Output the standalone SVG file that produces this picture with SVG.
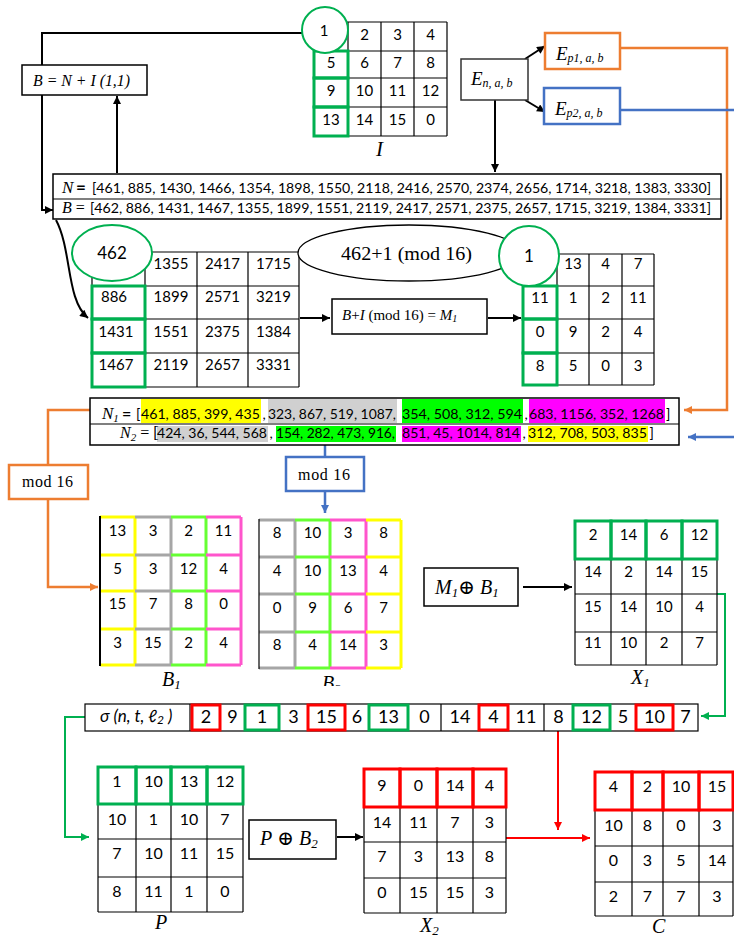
<svg xmlns="http://www.w3.org/2000/svg" width="734" height="939" viewBox="0 0 734 939">
<defs>
<style>
.t{font-family:Lato,"Liberation Sans","DejaVu Sans",sans-serif;fill:#000}
.m{text-anchor:middle}
.f15{font-size:15px}
.f16{font-size:16px}
.f18{font-size:18px}
.s{font-family:"Liberation Serif","Times New Roman","DejaVu Serif",serif;fill:#000}
.i{font-style:italic}
.g{fill:none;stroke:#000;stroke-width:1.2}
.gb{fill:none;stroke:#00b050;stroke-width:3}
.rb{fill:none;stroke:#ff0000;stroke-width:3}
.box{fill:#fff;stroke:#000;stroke-width:1.5}
.k{fill:none;stroke:#000;stroke-width:2}
.o{fill:none;stroke:#ed7d31;stroke-width:2.5}
.b{fill:none;stroke:#4472c4;stroke-width:2.5}
.gr{fill:none;stroke:#00b050;stroke-width:2}
.r{fill:none;stroke:#ff0000;stroke-width:2}
.cy{fill:none;stroke:#ffff00;stroke-width:3}
.cg{fill:none;stroke:#a6a6a6;stroke-width:3}
.cl{fill:none;stroke:#66ff33;stroke-width:3}
.cp{fill:none;stroke:#ff55cc;stroke-width:3}
</style>
<marker id="ak" viewBox="0 0 10 10" refX="10" refY="5" markerWidth="10" markerHeight="8" markerUnits="userSpaceOnUse" orient="auto"><path d="M0,0L10,5L0,10z" fill="#000"/></marker>
<marker id="ao" viewBox="0 0 10 10" refX="10" refY="5" markerWidth="10" markerHeight="8" markerUnits="userSpaceOnUse" orient="auto"><path d="M0,0L10,5L0,10z" fill="#ed7d31"/></marker>
<marker id="abl" viewBox="0 0 10 10" refX="10" refY="5" markerWidth="10" markerHeight="8" markerUnits="userSpaceOnUse" orient="auto"><path d="M0,0L10,5L0,10z" fill="#4472c4"/></marker>
<marker id="ag" viewBox="0 0 10 10" refX="10" refY="5" markerWidth="10" markerHeight="8" markerUnits="userSpaceOnUse" orient="auto"><path d="M0,0L10,5L0,10z" fill="#00b050"/></marker>
<marker id="ar" viewBox="0 0 10 10" refX="10" refY="5" markerWidth="10" markerHeight="8" markerUnits="userSpaceOnUse" orient="auto"><path d="M0,0L10,5L0,10z" fill="#ff0000"/></marker>
<clipPath id="clipB"><rect x="0" y="660" width="734" height="26"/></clipPath>
</defs>
<rect width="734" height="939" fill="#fff"/>

<g id="connectors">
<path class="k" d="M302,33H42V210H53" marker-end="url(#ak)"/>
<path class="k" d="M117,173V96" marker-end="url(#ak)"/>
<path class="k" d="M495,100V172" marker-end="url(#ak)"/>
<path class="k" d="M525,59L545,46" marker-end="url(#ak)"/>
<path class="k" d="M525,100L545,112" marker-end="url(#ak)"/>
<path class="o" d="M620,48H727V410H684" marker-end="url(#ao)"/>
<path class="b" d="M620,110H736"/>
<path class="b" d="M736,437H688" marker-end="url(#abl)"/>
<path class="k" d="M56,220C72,250 66,300 88,318" marker-end="url(#ak)"/>
<path class="k" d="M492,266H500"/>
<path class="k" d="M300,318H330" marker-end="url(#ak)"/>
<path class="k" d="M488,318H521" marker-end="url(#ak)"/>
<path class="o" d="M90,410H48V465M48,499V587H98" marker-end="url(#ao)"/>
<path class="b" d="M325,445V457M325,491V513" marker-end="url(#abl)"/>
<path class="k" d="M523,587H572" marker-end="url(#ak)"/>
<path class="gr" d="M717,594H725V716H701" marker-end="url(#ag)"/>
<path class="gr" d="M85,717H65V837H89" marker-end="url(#ag)"/>
<path class="k" d="M337,837H363" marker-end="url(#ak)"/>
<path class="r" d="M558,731V830" marker-end="url(#ar)"/>
<path class="r" d="M506,838H590" marker-end="url(#ar)"/>
</g>

<g id="formulaB">
<rect class="box" x="22" y="65" width="125" height="30" stroke-width="2.5"/>
<text class="s i" x="33" y="86" font-size="16" textLength="97" lengthAdjust="spacingAndGlyphs">B = N + I (1,1)</text>
</g>

<g id="gridI">
<path class="g" d="M314,22H447M314,51H447M314,78H447M314,107H447M314,136H447M314,22V136M348,22V136M381,22V136M414,22V136M447,22V136"/>
<rect class="gb" x="314" y="51" width="34" height="27"/>
<rect class="gb" x="314" y="78" width="34" height="29"/>
<rect class="gb" x="314" y="107" width="34" height="29"/>
<circle cx="325" cy="30" r="23" fill="#fff" stroke="#00b050" stroke-width="2"/>
<g class="t m f15">
<text x="324" y="36">1</text><text x="364.5" y="39.5">2</text><text x="397.5" y="39.5">3</text><text x="430.5" y="39.5">4</text>
<text x="331" y="67.5">5</text><text x="364.5" y="67.5">6</text><text x="397.5" y="67.5">7</text><text x="430.5" y="67.5">8</text>
<text x="331" y="95.5">9</text><text x="364.5" y="95.5">10</text><text x="397.5" y="95.5">11</text><text x="430.5" y="95.5">12</text>
<text x="331" y="124.5">13</text><text x="364.5" y="124.5">14</text><text x="397.5" y="124.5">15</text><text x="430.5" y="124.5">0</text>
</g>
<text class="s i" x="376" y="156" font-size="21">I</text>
</g>

<g id="En">
<rect x="461" y="59" width="67" height="41" fill="#fff" stroke="#333" stroke-width="1.5"/>
<text class="s i" x="471" y="85" font-size="19">E<tspan font-size="12" dy="2">n, a, b</tspan></text>
</g>
<g id="Ep1">
<rect x="545" y="33" width="75" height="36" fill="#fff" stroke="#ed7d31" stroke-width="2.5"/>
<text class="s i" x="556" y="60" font-size="19">E<tspan font-size="12" dy="2">p1, a, b</tspan></text>
</g>
<g id="Ep2">
<rect x="544" y="88" width="76" height="36" fill="#fff" stroke="#4472c4" stroke-width="2.5"/>
<text class="s i" x="555" y="115" font-size="19">E<tspan font-size="12" dy="2">p2, a, b</tspan></text>
</g>

<g id="NB">
<rect class="box" x="53" y="174" width="668" height="45" stroke-width="1.2"/>
<path class="g" d="M53,199H721"/>
<text class="s i" x="62" y="193" font-size="17">N</text>
<text class="t" x="76" y="193" font-size="17" font-weight="bold">=</text>
<text class="t" x="92" y="193" font-size="14.3" textLength="619" lengthAdjust="spacingAndGlyphs">[461, 885, 1430, 1466, 1354, 1898, 1550, 2118, 2416, 2570, 2374, 2656, 1714, 3218, 1383, 3330]</text>
<text class="s" x="62" y="213" font-size="16"><tspan font-style="italic">B</tspan> =</text>
<text class="t" x="90" y="213" font-size="14.3" textLength="621" lengthAdjust="spacingAndGlyphs">[462, 886, 1431, 1467, 1355, 1899, 1551, 2119, 2417, 2571, 2375, 2657, 1715, 3219, 1384, 3331]</text>
</g>

<g id="gridB">
<path class="g" d="M92,252H299M92,286H299M92,319H299M92,353H299M92,387H299M92,252V387M145,252V387M197,252V387M248,252V387M299,252V387"/>
<rect class="gb" x="92" y="286" width="53" height="33"/>
<rect class="gb" x="92" y="319" width="53" height="34"/>
<rect class="gb" x="92" y="353" width="53" height="34"/>
<ellipse cx="112" cy="253" rx="40" ry="28" fill="#fff" stroke="#00b050" stroke-width="2"/>
<g class="t m f15">
<text x="112" y="259" font-size="17">462</text><text x="171" y="269">1355</text><text x="222.5" y="269">2417</text><text x="273.5" y="269">1715</text>
<text x="114" y="302">886</text><text x="171" y="302">1899</text><text x="222.5" y="302">2571</text><text x="273.5" y="302">3219</text>
<text x="116" y="337">1431</text><text x="171" y="337">1551</text><text x="222.5" y="337">2375</text><text x="273.5" y="337">1384</text>
<text x="116" y="370">1467</text><text x="171" y="370">2119</text><text x="222.5" y="370">2657</text><text x="273.5" y="370">3331</text>
</g>
</g>

<g id="ellipseMod">
<ellipse cx="409" cy="253" rx="111" ry="28" fill="#fff" stroke="#000" stroke-width="1.3"/>
<text class="s" x="341" y="260" font-size="19" textLength="131" lengthAdjust="spacingAndGlyphs">462+1 (mod 16)</text>
</g>

<g id="formulaM1">
<rect class="box" x="332" y="299" width="155" height="35" stroke-width="1.2"/>
<text class="s" x="342" y="320" font-size="15"><tspan font-style="italic">B</tspan>+<tspan font-style="italic">I</tspan> (mod 16) = <tspan font-style="italic">M</tspan><tspan font-style="italic" font-size="10" dy="2">1</tspan></text>
</g>

<g id="gridM1">
<path class="g" d="M523,254H654M523,286H654M523,319H654M523,353H654M523,385H654M523,254V385M557,254V385M589,254V385M622,254V385M654,254V385"/>
<rect class="gb" x="523" y="286" width="34" height="33"/>
<rect class="gb" x="523" y="319" width="34" height="34"/>
<rect class="gb" x="523" y="353" width="34" height="32"/>
<circle cx="529" cy="256" r="30" fill="#fff" stroke="#00b050" stroke-width="2"/>
<g class="t m f15">
<text x="529" y="262" font-size="17">1</text><text x="573" y="269">13</text><text x="605.5" y="269">4</text><text x="638" y="269">7</text>
<text x="540" y="303">11</text><text x="573" y="303">1</text><text x="605.5" y="303">2</text><text x="638" y="303">11</text>
<text x="540" y="337">0</text><text x="573" y="337">9</text><text x="605.5" y="337">2</text><text x="638" y="337">4</text>
<text x="540" y="371">8</text><text x="573" y="371">5</text><text x="605.5" y="371">0</text><text x="638" y="371">3</text>
</g>
</g>

<g id="N1N2">
<rect class="box" x="90" y="398" width="589" height="47" stroke-width="1.2"/>
<path class="g" d="M90,424H679"/>
<rect x="141" y="399" width="120" height="24" fill="#ffff00"/>
<rect x="268" y="399" width="129" height="24" fill="#d0d0d0"/>
<rect x="402" y="399" width="121" height="24" fill="#00ff00"/>
<rect x="529" y="399" width="136" height="24" fill="#ff00ff"/>
<rect x="157" y="426" width="111" height="16" fill="#d0d0d0"/>
<rect x="276" y="426" width="120" height="16" fill="#00ff00"/>
<rect x="402" y="426" width="119" height="16" fill="#ff00ff"/>
<rect x="528" y="426" width="120" height="16" fill="#ffff00"/>
<text class="s i" x="102" y="419" font-size="17">N<tspan font-size="11" dy="3">1</tspan></text>
<text class="t" x="122" y="419" font-size="16" font-weight="bold">=</text>
<g class="t" font-size="14.3">
<text x="136" y="419">[</text>
<text x="141" y="419" textLength="119" lengthAdjust="spacingAndGlyphs">461, 885, 399, 435</text>
<text x="262.5" y="419">,</text>
<text x="268" y="419" textLength="128" lengthAdjust="spacingAndGlyphs">323, 867, 519, 1087,</text>
<text x="402" y="419" textLength="120" lengthAdjust="spacingAndGlyphs">354, 508, 312, 594</text>
<text x="524.5" y="419">,</text>
<text x="529" y="419" textLength="135" lengthAdjust="spacingAndGlyphs">683, 1156, 352, 1268</text>
<text x="666" y="419">]</text>
<text x="157" y="438" textLength="110" lengthAdjust="spacingAndGlyphs">424, 36, 544, 568</text>
<text x="269.5" y="438">,</text>
<text x="276" y="438" textLength="119" lengthAdjust="spacingAndGlyphs">154, 282, 473, 916,</text>
<text x="402" y="438" textLength="118" lengthAdjust="spacingAndGlyphs">851, 45, 1014, 814</text>
<text x="522.5" y="438">,</text>
<text x="528" y="438" textLength="119" lengthAdjust="spacingAndGlyphs">312, 708, 503, 835</text>
<text x="649.5" y="438">]</text>
</g>
<text class="s" x="120" y="438" font-size="16"><tspan font-style="italic">N</tspan><tspan font-style="italic" font-size="11" dy="3">2</tspan><tspan dy="-3"> = [</tspan></text>
</g>

<g id="mod1">
<rect x="9" y="465" width="79" height="34" fill="#fff" stroke="#ed7d31" stroke-width="2.5"/>
<text class="s" x="22" y="487" font-size="16" textLength="51">mod 16</text>
</g>
<g id="mod2">
<rect x="286" y="457" width="78" height="34" fill="#fff" stroke="#4472c4" stroke-width="2.5"/>
<text class="s" x="298" y="480" font-size="16" textLength="52">mod 16</text>
</g>

<g id="gridB1">
<path class="cy" d="M100,517H135M100,555H135M100,591H135M100,629H135M100,665H135M135,517V665"/>
<path class="cg" d="M135,517H171M135,555H171M135,591H171M135,629H171M135,665H171M171,517V665"/>
<path class="cl" d="M171,517H206M171,555H206M171,591H206M171,629H206M171,665H206M206,517V665"/>
<path class="cp" d="M206,517H241M206,555H241M206,591H241M206,629H241M206,665H241M241,517V665"/>
<path d="M100,516V666" stroke="#000" stroke-width="2" fill="none"/>
<g class="t m f15">
<text x="117.5" y="536">13</text><text x="153" y="536">3</text><text x="188.5" y="536">2</text><text x="223.5" y="536">11</text>
<text x="117.5" y="574">5</text><text x="153" y="574">3</text><text x="188.5" y="574">12</text><text x="223.5" y="574">4</text>
<text x="117.5" y="609">15</text><text x="153" y="609">7</text><text x="188.5" y="609">8</text><text x="223.5" y="609">0</text>
<text x="117.5" y="648">3</text><text x="153" y="648">15</text><text x="188.5" y="648">2</text><text x="223.5" y="648">4</text>
</g>
<text class="s i" x="162" y="686" font-size="20">B<tspan font-size="13" dy="3">1</tspan></text>
</g>

<g id="gridB2">
<path class="cg" d="M259,520H295M259,557H295M259,594H295M259,632H295M259,668H295M295,520V668"/>
<path class="cl" d="M295,520H330M295,557H330M295,594H330M295,632H330M295,668H330M330,520V668"/>
<path class="cp" d="M330,520H366M330,557H366M330,594H366M330,632H366M330,668H366M366,520V668"/>
<path class="cy" d="M366,520H401M366,557H401M366,594H401M366,632H401M366,668H401M401,520V668"/>
<path d="M259,519V669" stroke="#000" stroke-width="1.2" fill="none"/>
<g class="t m f15">
<text x="277" y="538">8</text><text x="312.5" y="538">10</text><text x="348" y="538">3</text><text x="383.5" y="538">8</text>
<text x="277" y="576">4</text><text x="312.5" y="576">10</text><text x="348" y="576">13</text><text x="383.5" y="576">4</text>
<text x="277" y="613">0</text><text x="312.5" y="613">9</text><text x="348" y="613">6</text><text x="383.5" y="613">7</text>
<text x="277" y="650">8</text><text x="312.5" y="650">4</text><text x="348" y="650">14</text><text x="383.5" y="650">3</text>
</g>
<text class="s i" x="322" y="690" font-size="20" clip-path="url(#clipB)">B<tspan font-size="13" dy="3">2</tspan></text>
</g>

<g id="formulaX1">
<rect class="box" x="424" y="568" width="94" height="38" stroke-width="1.2"/>
<text class="s" x="435" y="594" font-size="20"><tspan font-style="italic">M</tspan><tspan font-style="italic" font-size="13" dy="3">1</tspan><tspan dy="-3">⊕ </tspan><tspan font-style="italic">B</tspan><tspan font-style="italic" font-size="13" dy="3">1</tspan></text>
</g>

<g id="gridX1">
<path class="g" d="M575,521H717M575,559H717M575,594H717M575,632H717M575,665H717M575,521V665M611,521V665M646,521V665M682,521V665M717,521V665"/>
<rect class="gb" x="575" y="521" width="36" height="38"/>
<rect class="gb" x="611" y="521" width="35" height="38"/>
<rect class="gb" x="646" y="521" width="36" height="38"/>
<rect class="gb" x="682" y="521" width="35" height="38"/>
<g class="t m f15">
<text x="593" y="540">2</text><text x="628.5" y="540">14</text><text x="664" y="540">6</text><text x="699.5" y="540">12</text>
<text x="593" y="577">14</text><text x="628.5" y="577">2</text><text x="664" y="577">14</text><text x="699.5" y="577">15</text>
<text x="593" y="612">15</text><text x="628.5" y="612">14</text><text x="664" y="612">10</text><text x="699.5" y="612">4</text>
<text x="593" y="648">11</text><text x="628.5" y="648">10</text><text x="664" y="648">2</text><text x="699.5" y="648">7</text>
</g>
<text class="s i" x="631" y="684" font-size="20">X<tspan font-size="13" dy="3">1</tspan></text>
</g>

<g id="sigma">
<rect x="85" y="704" width="613" height="27" fill="#fff" stroke="#000" stroke-width="1.2"/>
<path class="g" d="M190,704V731M441,704V731M544,704V731"/>
<rect class="rb" x="192" y="705" width="28" height="25"/>
<rect class="rb" x="308" y="705" width="37" height="25"/>
<rect class="rb" x="479" y="705" width="29" height="25"/>
<rect class="rb" x="636" y="705" width="37" height="25"/>
<rect class="gb" x="245" y="705" width="34" height="25"/>
<rect class="gb" x="369" y="705" width="39" height="25"/>
<rect class="gb" x="573" y="705" width="37" height="25"/>
<text class="t i" x="100" y="722" font-size="17">σ (n, t, ℓ<tspan font-size="12" dy="2">2</tspan><tspan dy="-2"> )</tspan></text>
<g class="t m f18">
<text x="206" y="723">2</text><text x="232.5" y="723">9</text><text x="262" y="723">1</text><text x="293.5" y="723">3</text>
<text x="326.5" y="723">15</text><text x="357" y="723">6</text><text x="388.5" y="723">13</text><text x="424.5" y="723">0</text>
<text x="460" y="723">14</text><text x="493.5" y="723">4</text><text x="526" y="723">11</text><text x="558.5" y="723">8</text>
<text x="591.5" y="723">12</text><text x="623" y="723">5</text><text x="654.5" y="723">10</text><text x="685.5" y="723">7</text>
</g>
</g>

<g id="gridP">
<path class="g" d="M98,767H243M98,804H243M98,839H243M98,877H243M98,912H243M98,767V912M136,767V912M171,767V912M207,767V912M243,767V912"/>
<rect class="gb" x="98" y="767" width="38" height="37"/>
<rect class="gb" x="136" y="767" width="35" height="37"/>
<rect class="gb" x="171" y="767" width="36" height="37"/>
<rect class="gb" x="207" y="767" width="36" height="37"/>
<g class="t m f16">
<text x="117" y="787">1</text><text x="153.5" y="787">10</text><text x="189" y="787">13</text><text x="225" y="787">12</text>
<text x="117" y="825">10</text><text x="153.5" y="825">1</text><text x="189" y="825">10</text><text x="225" y="825">7</text>
<text x="117" y="859">7</text><text x="153.5" y="859">10</text><text x="189" y="859">11</text><text x="225" y="859">15</text>
<text x="117" y="897">8</text><text x="153.5" y="897">11</text><text x="189" y="897">1</text><text x="225" y="897">0</text>
</g>
<text class="s i" x="155" y="929" font-size="20">P</text>
</g>

<g id="formulaX2">
<rect class="box" x="249" y="820" width="87" height="39" stroke-width="1.2"/>
<text class="s" x="260" y="845" font-size="20"><tspan font-style="italic">P</tspan> ⊕ <tspan font-style="italic">B</tspan><tspan font-style="italic" font-size="13" dy="3">2</tspan></text>
</g>

<g id="gridX2">
<path class="g" d="M364,769H506M364,807H506M364,842H506M364,878H506M364,913H506M364,769V913M400,769V913M437,769V913M473,769V913M506,769V913"/>
<rect class="rb" x="364" y="769" width="36" height="38"/>
<rect class="rb" x="400" y="769" width="37" height="38"/>
<rect class="rb" x="437" y="769" width="36" height="38"/>
<rect class="rb" x="473" y="769" width="33" height="38"/>
<g class="t m f16">
<text x="382" y="791">9</text><text x="418.5" y="791">0</text><text x="455" y="791">14</text><text x="489.5" y="791">4</text>
<text x="382" y="828">14</text><text x="418.5" y="828">11</text><text x="455" y="828">7</text><text x="489.5" y="828">3</text>
<text x="382" y="862">7</text><text x="418.5" y="862">3</text><text x="455" y="862">13</text><text x="489.5" y="862">8</text>
<text x="382" y="898">0</text><text x="418.5" y="898">15</text><text x="455" y="898">15</text><text x="489.5" y="898">3</text>
</g>
<text class="s i" x="420" y="932" font-size="20">X<tspan font-size="13" dy="3">2</tspan></text>
</g>

<g id="gridC">
<path class="g" d="M595,772H733M595,810H733M595,846H733M595,882H733M595,916H733M595,772V916M632,772V916M663,772V916M699,772V916M733,772V916"/>
<rect class="rb" x="595" y="772" width="37" height="38"/>
<rect class="rb" x="632" y="772" width="31" height="38"/>
<rect class="rb" x="663" y="772" width="36" height="38"/>
<rect class="rb" x="699" y="772" width="34" height="38"/>
<g class="t m f16">
<text x="613.5" y="792">4</text><text x="647.5" y="792">2</text><text x="681" y="792">10</text><text x="717" y="792">15</text>
<text x="613.5" y="831">10</text><text x="647.5" y="831">8</text><text x="681" y="831">0</text><text x="717" y="831">3</text>
<text x="613.5" y="866">0</text><text x="647.5" y="866">3</text><text x="681" y="866">5</text><text x="717" y="866">14</text>
<text x="613.5" y="902">2</text><text x="647.5" y="902">7</text><text x="681" y="902">7</text><text x="717" y="902">3</text>
</g>
<text class="s i" x="652" y="933" font-size="20">C</text>
</g>
</svg>
